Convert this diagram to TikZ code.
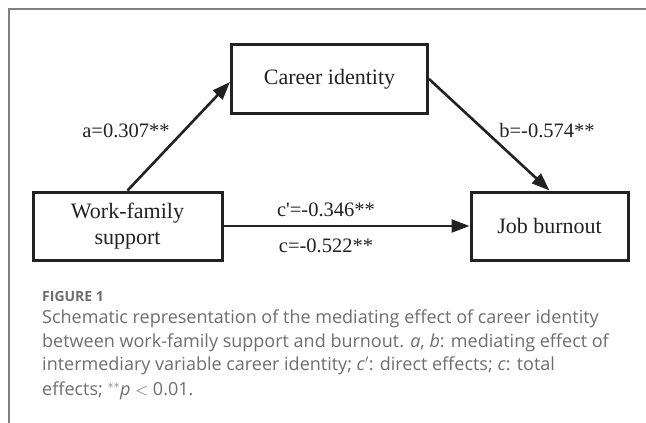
\documentclass[tikz,border=0pt]{standalone}
\usepackage{fontspec}
\setmainfont{Liberation Serif}
\newfontfamily\capfont{Open Sans}
\usetikzlibrary{arrows.meta}
\definecolor{framegray}{HTML}{808080}
\definecolor{capgray}{HTML}{6E6E6E}
\definecolor{inkdark}{HTML}{222222}
\newcommand{\straightquote}{\XeTeXglyph\XeTeXglyphindex "quotesingle"\relax}
\begin{document}
\begin{tikzpicture}[x=1pt,y=-1pt,
  varbox/.style={draw=inkdark,line width=3pt,fill=white,inner sep=0pt,align=center,
    font=\fontsize{22}{26}\selectfont,text=inkdark},
  effect/.style={font=\fontsize{20.5}{24}\selectfont,text=inkdark,inner sep=0pt},
  path/.style={draw=inkdark,line width=2.6pt,-{Triangle[length=18pt,width=13pt]}},
  captext/.style={anchor=base west,inner sep=0pt,text=capgray,
    font=\capfont\fontsize{18}{24}\selectfont}]
\useasboundingbox (0,0) rectangle (646,423);
\fill[white] (0,0) rectangle (646,423);
\draw[framegray,line width=1.8pt] (9,423) -- (9,9) -- (646,9);
\node[varbox,minimum width=196pt,minimum height=69pt] (ci) at (329.5,79) {Career identity};
\node[varbox,minimum width=189pt,minimum height=68pt] (wf) at (127.5,226) {Work-family\\support};
\node[varbox,minimum width=157pt,minimum height=68pt] (jb) at (549.5,226) {Job burnout};
\draw[path] (wf.north) -- ([yshift=-3pt]ci.west);
\draw[path] (ci.east) -- (jb.north);
\draw[path] (wf.east) -- (jb.west);
\node[effect] (la) at (126,131) {a=0.307**};
\node[effect] (lb) at (547,131) {b=-0.574**};
\node[effect] (lcp) at (326,210) {c\straightquote=-0.346**};
\node[effect] (lc) at (326,246) {c=-0.522**};
\node[captext,font=\capfont\bfseries\fontsize{14}{18}\selectfont] (fig) at (42,301) {FIGURE 1};
\node[captext] (c1) at (42,323) {Schematic representation of the mediating effect of career identity};
\node[captext] (c2) at (42,347) {between work-family support and burnout. \textit{a}, \textit{b}: mediating effect of};
\node[captext] (c3) at (42,370) {intermediary variable career identity; \textit{c}$^{\prime}$: direct effects; \textit{c}: total};
\node[captext] (c4) at (42,395) {effects; $^{**}$\textit{p} $<$ 0.01.};
\end{tikzpicture}
\end{document}
